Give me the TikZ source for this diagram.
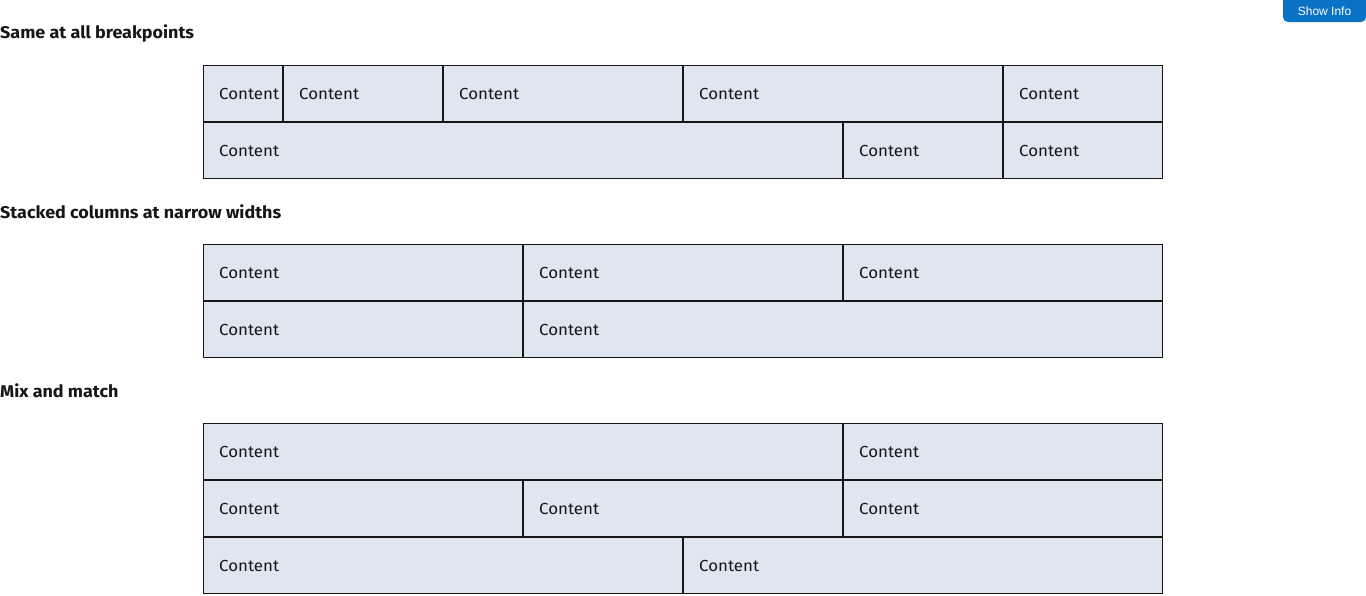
\documentclass[tikz,border=0pt]{standalone}
\usepackage{fontspec}
\setmainfont{Fira Sans}[FakeStretch=1.055]
\newfontfamily\btnfont{Liberation Sans}
\definecolor{cellfill}{RGB}{224,230,240}
\definecolor{cellline}{RGB}{22,22,22}
\definecolor{inktext}{RGB}{22,22,22}
\definecolor{btnblue}{RGB}{10,114,196}
\tikzset{
  cellbox/.style={draw=cellline, fill=cellfill, line width=1pt},
  celltext/.style={anchor=west, inner sep=0pt, text=inktext, font=\fontsize{16}{18}\selectfont},
  heading/.style={anchor=west, inner sep=0pt, text=inktext, font=\fontsize{17}{20}\selectfont\bfseries},
}
% a grid cell: #1 name, #2 left x, #3 top y, #4 width, #5 height
\newcommand{\gridcell}[5]{%
  \path[cellbox] (#2+0.5,#3+0.5) rectangle (#2+#4-0.5,#3+#5-0.5);
  \node[celltext] (#1) at (#2+16,#3+#5/2) {Content};
}
\begin{document}
\begin{tikzpicture}[x=1pt,y=-1pt]
\useasboundingbox[fill=white] (0,0) rectangle (1366,595);

% button in the top right corner
\path[fill=btnblue, rounded corners=5pt] (1283,-6) -- (1283,22) -- (1366,22) -- (1366,-6) -- cycle;
\node[text=white, font=\btnfont\fontsize{12}{14}\selectfont, inner sep=0pt] (btn) at (1324.5,11) {Show Info};

% first section
\node[heading] (h1) at (0,33) {Same at all breakpoints};
\gridcell{a1}{203}{65}{80}{57}
\gridcell{a2}{283}{65}{160}{57}
\gridcell{a3}{443}{65}{240}{57}
\gridcell{a4}{683}{65}{320}{57}
\gridcell{a5}{1003}{65}{160}{57}
\gridcell{a6}{203}{122}{640}{57}
\gridcell{a7}{843}{122}{160}{57}
\gridcell{a8}{1003}{122}{160}{57}

% second section
\node[heading] (h2) at (0,212) {Stacked columns at narrow widths};
\gridcell{b1}{203}{244}{320}{57}
\gridcell{b2}{523}{244}{320}{57}
\gridcell{b3}{843}{244}{320}{57}
\gridcell{b4}{203}{301}{320}{57}
\gridcell{b5}{523}{301}{640}{57}

% third section
\node[heading] (h3) at (0,391) {Mix and match};
\gridcell{c1}{203}{423}{640}{57}
\gridcell{c2}{843}{423}{320}{57}
\gridcell{c3}{203}{480}{320}{57}
\gridcell{c4}{523}{480}{320}{57}
\gridcell{c5}{843}{480}{320}{57}
\gridcell{c6}{203}{537}{480}{57}
\gridcell{c7}{683}{537}{480}{57}
\end{tikzpicture}
\end{document}
